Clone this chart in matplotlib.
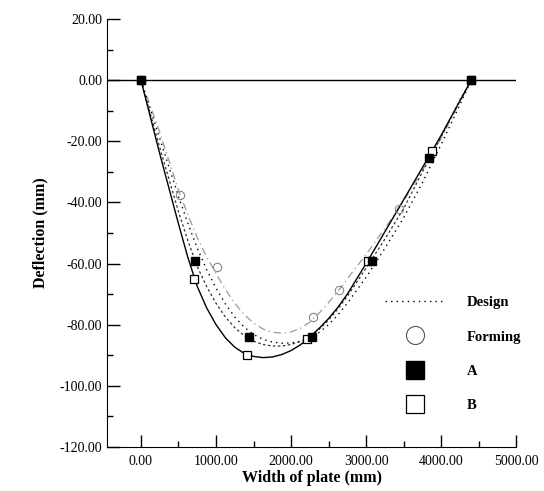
import numpy as np
import matplotlib.pyplot as plt
from matplotlib.ticker import MultipleLocator, FormatStrFormatter

plt.rcParams['font.family'] = ['Liberation Serif', 'DejaVu Serif']

# curve values (x in mm, deflection in mm)
xc = [0, 250, 500, 625, 750, 875, 1000, 1125, 1250, 1375, 1500, 1625, 1750,
      1875, 2000, 2125, 2250, 2375, 2500, 2625, 2750, 3000, 3250, 3500,
      3750, 4000, 4250, 4400]
design = [0, -19, -38, -46.8, -55, -62, -68, -73.2, -77.5, -80.8, -83.2,
          -84.8, -85.7, -86.1, -86, -85.5, -84.4, -82.5, -80, -76.8, -73,
          -64.5, -55, -45, -33.5, -21, -8, 0]
forming = [0, -17, -36, -44, -51.5, -57.8, -63.3, -68.5, -73, -76.7, -79.5,
           -81.4, -82.5, -82.8, -82.4, -81.2, -79.2, -76.2, -72.8, -69, -65,
           -57, -48.5, -39.5, -29.5, -19, -7, 0]
curve_a = [0, -22, -43, -52.5, -61, -67.5, -73, -77.5, -81, -83.6, -85.4,
           -86.5, -87, -87, -86.5, -85.5, -84, -81.5, -78.5, -74.8, -70.7,
           -61.5, -52, -42, -30, -18.5, -6.5, 0]
curve_b = [0, -24, -47, -58, -67.5, -74.5, -80, -84.3, -87.4, -89.4, -90.4,
           -90.8, -90.6, -89.8, -88.5, -86.6, -84, -81.2, -78, -74.3, -70,
           -60, -49.6, -39.1, -28.6, -18, -6.7, 0]

# measured points
form_x = [0, 519, 1010, 2287, 2633, 3444, 4400]
form_y = [0, -37.7, -61, -77.4, -68.8, -42, 0]
a_x = [0, 718, 1436, 2274, 3072, 3843, 4400]
a_y = [0, -59.3, -84, -84, -59.3, -25.6, 0]
b_x = [0, 705, 1410, 2207, 3019, 3883, 4400]
b_y = [0, -65.2, -89.8, -84.6, -59.3, -23, 0]

fig = plt.figure(figsize=(5.44, 4.91), dpi=100)
ax = fig.add_axes([0.197, 0.09, 0.752, 0.871])

ax.axhline(0, color='black', lw=1.0)

ax.plot(xc, forming, color='#999999', lw=0.9, ls=(0, (6, 3, 1, 3)))
ax.plot(xc, design, color='black', lw=1.0, ls=(0, (1, 3)))
ax.plot(xc, curve_a, color='#333333', lw=0.9, ls=(0, (2, 2)))
ax.plot(xc, curve_b, color='black', lw=1.0)

ax.plot(form_x, form_y, 'o', ms=6, mfc='none', mec='#888888', mew=0.8)
ax.plot(b_x, b_y, 's', ms=6, mfc='white', mec='black', mew=0.9)
ax.plot(a_x, a_y, 's', ms=6, mfc='black', mec='black')

# legend
h1, = ax.plot([], [], color='black', lw=1.0, ls=(0, (1, 3)))
h2, = ax.plot([], [], 'o', ms=13, mfc='none', mec='#555555', mew=0.8)
h3, = ax.plot([], [], 's', ms=13, mfc='black', mec='black')
h4, = ax.plot([], [], 's', ms=13, mfc='white', mec='black', mew=0.9)
ax.legend([h1, h2, h3, h4], ['Design', 'Forming', 'A', 'B'],
          loc='lower right', bbox_to_anchor=(1.045, 0.05), frameon=False,
          prop={'weight': 'bold', 'size': 10.5}, labelspacing=1.45,
          handlelength=4.0, handletextpad=1.6)

ax.set_xlim(-450, 5000)
ax.set_ylim(-120, 20)
ax.xaxis.set_major_locator(MultipleLocator(1000))
ax.xaxis.set_minor_locator(MultipleLocator(500))
ax.yaxis.set_major_locator(MultipleLocator(20))
ax.yaxis.set_minor_locator(MultipleLocator(10))
ax.xaxis.set_major_formatter(FormatStrFormatter('%.2f'))
ax.yaxis.set_major_formatter(FormatStrFormatter('%.2f'))
ax.tick_params(which='major', direction='in', length=9, width=1, labelsize=10)
ax.tick_params(which='minor', direction='in', length=4, width=1)
ax.tick_params(axis='x', pad=6)

for s in ['top', 'right']:
    ax.spines[s].set_visible(False)

ax.set_xlabel('Width of plate (mm)', fontsize=11.5, fontweight='bold', labelpad=1)
ax.set_ylabel('Deflection (mm)', fontsize=11.5, fontweight='bold', labelpad=8)

fig.savefig('out.png', dpi=100)
